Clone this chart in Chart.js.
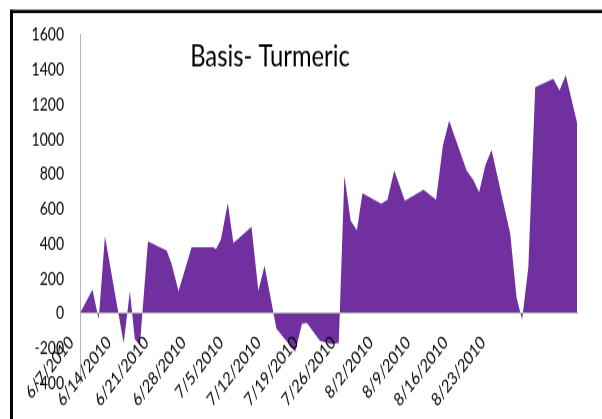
<!DOCTYPE html>
<html>
<head>
<meta charset="utf-8">
<script src="https://cdn.jsdelivr.net/npm/chart.js@4/dist/chart.umd.min.js"></script>
<style>
  html, body { margin: 0; padding: 0; background: #fff; overflow: hidden; }
  #c { display: block; width: 602px !important; height: 419px !important; }
</style>
</head>
<body>
<canvas id="c" width="602" height="322" style="width:602px;height:419px"></canvas>
<script>
const chartTitle = 'Basis- Turmeric';

// Trading session number counted from 7 June 2010 (six sessions per week)
const session = [0, 2, 3, 4, 7, 8, 8.8, 9.6, 10.9, 13.9, 14.7, 15.8, 17.9, 21.4, 21.8, 22.6,
  23.7, 24.6, 27.5, 28.6, 29.6, 31.5, 34.5, 35.6, 36.4, 38.5, 40.4, 41.5, 42.4, 43.4, 44.4,
  45.3, 48.3, 49.3, 50.4, 52.1, 55.1, 57.1, 58.2, 59.2, 62.0, 63.1, 64.0, 65.0, 66.0, 69.0,
  70.0, 70.9, 71.9, 73.0, 75.9, 76.9, 77.9, 79.75];

// Basis (spot minus futures), Rs per quintal
const basis = [0, 136, -36, 443, -171, 127, -150, -184, 414, 361, 282, 127, 380, 380, 368, 424,
  635, 405, 497, 130, 273, -88, -223, -59, -56, -159, -178, -170, 792, 534, 477,
  691, 630, 653, 822, 648, 710, 653, 965, 1108, 821, 766, 696, 851, 940, 457,
  92, -38, 265, 1300, 1349, 1282, 1369, 1091];

// Weekly date labels along the horizontal axis
const tickLabels = ['6/7/2010', '6/14/2010', '6/21/2010', '6/28/2010', '7/5/2010', '7/12/2010',
  '7/19/2010', '7/26/2010', '8/2/2010', '8/9/2010', '8/16/2010', '8/23/2010'];
const sessionsPerWeek = 6;

const yMin = -400, yMax = 1600, yStep = 200;

const PURPLE = '#7030a0';
const AXIS_GREY = '#b3b3b3';

// White page, black frame on the top and left edges, and the overlaid title
const framePlugin = {
  id: 'frame',
  beforeDraw(chart) {
    const ctx = chart.ctx;
    ctx.save();
    ctx.fillStyle = '#fff';
    ctx.fillRect(0, 0, chart.width, chart.height);
    ctx.fillStyle = '#000';
    ctx.fillRect(10, 7.5, chart.width - 10, 2.5);
    ctx.fillRect(10, 7.5, 3, chart.height);
    ctx.restore();
  },
  afterDraw(chart) {
    const ctx = chart.ctx;
    ctx.save();
    ctx.font = '23.8px Lato';
    ctx.fillStyle = '#000';
    ctx.textAlign = 'center';
    ctx.textBaseline = 'alphabetic';
    ctx.fillText(chartTitle, 270, 51);
    ctx.restore();
  }
};

function draw() {
  new Chart(document.getElementById('c'), {
    type: 'line',
    data: {
      datasets: [{
        data: session.map((s, i) => ({ x: s, y: basis[i] })),
        fill: 'origin',
        backgroundColor: PURPLE,
        borderColor: PURPLE,
        borderWidth: 0,
        pointRadius: 0,
        tension: 0
      }]
    },
    options: {
      responsive: false,
      animation: false,
      devicePixelRatio: 1,
      events: [],
      layout: { padding: { left: 0, top: 26.9, right: 24.7, bottom: 27.75 } },
      plugins: {
        legend: { display: false },
        tooltip: { enabled: false },
        title: { display: false }
      },
      scales: {
        x: {
          type: 'linear',
          position: { y: 0 },
          min: 0,
          max: session[session.length - 1],
          afterBuildTicks: (scale) => {
            scale.ticks = tickLabels.map((_, i) => ({ value: i * sessionsPerWeek }));
          },
          grid: { display: false, drawTicks: false },
          border: { display: true, color: AXIS_GREY, width: 1, z: 1 },
          ticks: {
            autoSkip: false,
            maxRotation: 45,
            minRotation: 45,
            padding: 14,
            labelOffset: -8.6,
            z: 1,
            color: '#000',
            font: { family: 'Lato', size: 14 },
            callback: (v, i) => tickLabels[i]
          }
        },
        y: {
          type: 'linear',
          min: yMin,
          max: yMax,
          afterFit: (scale) => { scale.width = 80; },
          grid: { display: false, drawTicks: false },
          border: { display: true, color: AXIS_GREY, width: 1 },
          ticks: {
            stepSize: yStep,
            padding: 16,
            color: '#000',
            font: { family: 'Lato', size: 14 },
            callback: (v) => String(v)
          }
        }
      }
    },
    plugins: [framePlugin]
  });
}

if (document.fonts && document.fonts.load) {
  Promise.all([document.fonts.load('14px Lato'), document.fonts.load('23.8px Lato')])
    .then(draw, draw);
} else {
  draw();
}
</script>
</body>
</html>
